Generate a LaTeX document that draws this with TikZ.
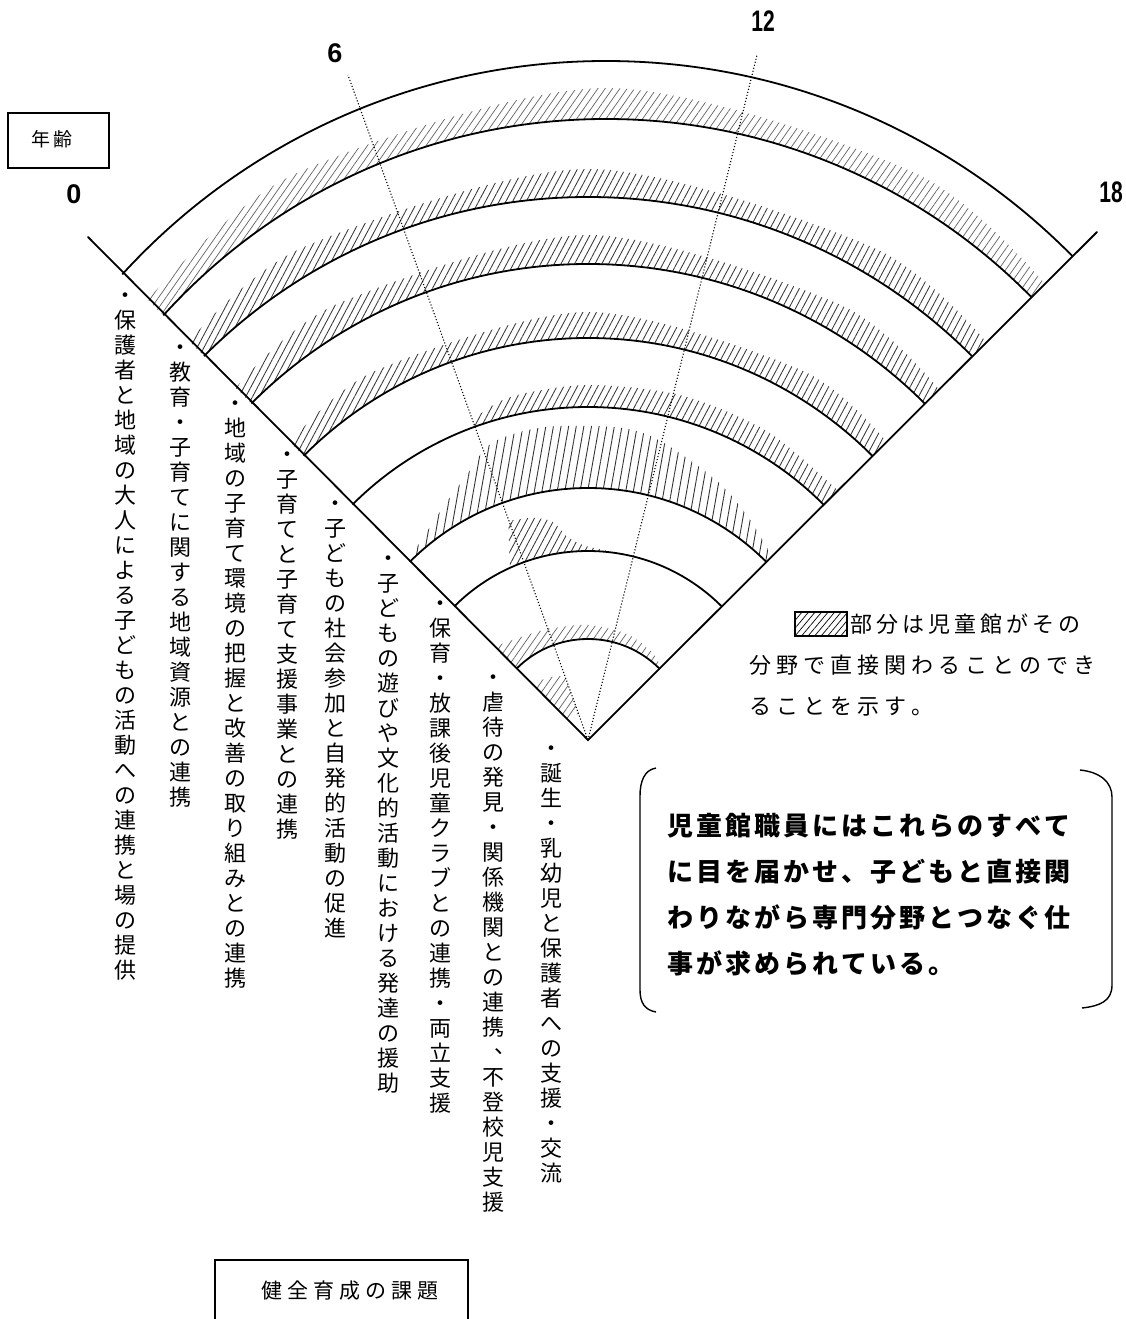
\documentclass[tikz,border=0pt]{standalone}
\usepackage{fontspec}
\setmainfont{Noto Sans CJK JP}
\newfontfamily\digitfont{Liberation Sans}
\usetikzlibrary{patterns.meta}
\newlength\mypitch
\def\myhrowi#1{\ifx\relax#1\else\hbox to\mypitch{\hss\vrule width0pt height0.88em depth0.12em\relax#1\hss}\expandafter\myhrowi\fi}
\newcommand\hrow[2]{\hbox{\mypitch=#1\relax\myhrowi#2\relax}}
\def\myvcoli#1{\ifx\relax#1\else\hbox to 25pt{\hss\vrule width0pt height0.88em depth0.12em\relax#1\hss}\expandafter\myvcoli\fi}
\newcommand\vcol[1]{\vbox{\baselineskip=25pt\lineskiplimit=-\maxdimen\myvcoli#1\relax}}
\newcommand\vcm{\hbox to 1em{\hskip0.55em\raise0.3em\rlap{、}\hss}}
\begin{document}
\begin{tikzpicture}[x=1pt,y=-1pt,
  edge/.style={line width=1.8pt,line cap=round},
  ring/.style={line width=1.8pt},
  ageline/.style={line width=1.1pt,dash pattern=on 1.1pt off 2pt},
  hatchA/.style={pattern={Lines[angle=62,distance=6pt,line width=0.85pt]},pattern color=black!78},
  hatchV/.style={pattern={Lines[angle=80,distance=7.5pt,line width=0.9pt]},pattern color=black!80},
  hatchL/.style={pattern={Lines[angle=55,distance=6pt,line width=0.7pt]},pattern color=black!62},
  agelbl/.style={font=\digitfont\bfseries\fontsize{27}{27}\selectfont,inner sep=0},
  col/.style={font=\fontsize{22}{25}\selectfont,inner sep=0,anchor=north},
  note/.style={font=\fontsize{22}{25}\selectfont,inner sep=0,anchor=west},
  boldtxt/.style={font=\fontsize{26}{29}\selectfont\bfseries,inner sep=0,anchor=west},
  boxline/.style={line width=1.3pt}]
\fill[white] (0,0) rectangle (1126,1319);
\useasboundingbox (0,0) rectangle (1126,1319);
\coordinate (A) at (588,740);
\coordinate (L) at (88,237);
\coordinate (R) at (1097,232);
\coordinate (C) at (606,716);
\coordinate (T6) at (348,75);
\coordinate (T12) at (757,55);

\begin{scope}
\clip (A) -- ++(-800,-800) -- ++(1600,0) -- cycle;
% hatched bands
\path[hatchL, shift={(A)}] (225:30) -- (225:78) -- plot[smooth] coordinates {(232:76) (242:72) (250.2:68)} -- (250.2:28) -- cycle;
\path[hatchL, shift={(A)}] (225:101) arc[start angle=225,end angle=315,radius=101] -- plot[smooth] coordinates {(315:104) (305:109) (290:113) (270:115) (250:118) (235:124) (225:132)} -- cycle;
\path[hatchA, shift={(A)}] (245.6:189) arc[start angle=245.6,end angle=276,radius=189] -- plot[smooth] coordinates {(276:190) (272:192) (268.5:195) (264:205) (260.8:221) (256:229) (250:233)} -- cycle;
\path[hatchV, shift={(A)}] (225:252) arc[start angle=225,end angle=315,radius=252] -- plot[smooth] coordinates {(315:258) (313:263) (305:276) (296:290) (284:307) (276:314) (262:316) (252:312) (245:290) (238:274) (225:254)} -- cycle;
\path[hatchA, shift={(A)}] (249:333) arc[start angle=249,end angle=315,radius=333] -- plot[smooth] coordinates {(315:353) (300:357) (285:357) (270:355) (258:352) (252:344) (249:334)} -- cycle;
\path[hatchA, shift={(A)}] (225:402) arc[start angle=225,end angle=315,radius=402] -- plot[smooth] coordinates {(315:422) (300:427) (270:428) (240:426) (225:421)} -- cycle;
\path[hatchA, shift={(A)}] (225:476) arc[start angle=225,end angle=315,radius=476] -- plot[smooth] coordinates {(315:496) (300:503) (270:505) (240:503) (225:498)} -- cycle;
\path[hatchA, shift={(A)}] (225:543) arc[start angle=225,end angle=315,radius=543] -- plot[smooth] coordinates {(315:563) (300:569) (270:571) (240:569) (225:564)} -- cycle;
\path[hatchL, shift={(C)}] (222:597) arc[start angle=222,end angle=318,radius=597] -- plot[smooth] coordinates {(318:615) (300:625) (270:628) (240:625) (222:619)} -- cycle;
% rings
\foreach \r in {101,189,252,333,402,476,543} \draw[ring] (A) circle[radius=\r];
\draw[ring] (C) circle[radius=597];
\draw[ring] (C) circle[radius=655];
\end{scope}

% age lines and edges
\draw[ageline] (A) -- (T6);
\draw[ageline] (A) -- (T12);
\draw[edge] (L) -- (A) -- (R);

\node[agelbl] (n0) at (74,194) {0};
\node[agelbl] (n6) at (335,53) {6};
\node[agelbl] (n12) at (763,21) {\scalebox{0.78}[1.1]{12}};
\node[agelbl] (n18) at (1111,192) {\scalebox{0.78}[1.1]{18}};

% age box
\draw[boxline] (8,113) rectangle (109,168);
\node[font=\fontsize{19}{22}\selectfont,inner sep=0] (age) at (52,139) {\hrow{23pt}{年齢}};

% columns
\node[col] (c1) at (125,284) {\vcol{・保護者と地域の大人による子どもの活動への連携と場の提供}};
\node[col] (c2) at (180,336) {\vcol{・教育・子育てに関する地域資源との連携}};
\node[col] (c3) at (235,392) {\vcol{・地域の子育て環境の把握と改善の取り組みとの連携}};
\node[col] (c4) at (287,443) {\vcol{・子育てと子育て支援事業との連携}};
\node[col] (c5) at (335,492) {\vcol{・子どもの社会参加と自発的活動の促進}};
\node[col] (c6) at (388,547) {\vcol{・子どもの遊びや文化的活動における発達の援助}};
\node[col] (c7) at (440,592) {\vcol{・保育・放課後児童クラブとの連携・両立支援}};
\node[col] (c8) at (493,666) {\vcol{・虐待の発見・関係機関との連携{\vcm}不登校児支援}};
\node[col] (c9) at (551,737) {\vcol{・誕生・乳幼児と保護者への支援・交流}};

% legend
\draw[line width=1.2pt, pattern={Lines[angle=50,distance=5pt,line width=0.7pt]}] (795,612) rectangle (847,636);
\node[note] (lg1) at (848,624) {\hrow{26pt}{部分は児童館がその}};
\node[note] (lg2) at (747,665) {\hrow{27pt}{分野で直接関わることのでき}};
\node[note] (lg3) at (747,706) {\hrow{27pt}{ることを示す。}};

% bracket note
\draw[line width=1.4pt] (656,768) .. controls (644,770) and (640,782) .. (640,796) -- (640,990) .. controls (640,1003) and (645,1010) .. (656,1012);
\draw[line width=1.4pt] (1080,770) .. controls (1100,772) and (1112,782) .. (1112,797) -- (1112,985) .. controls (1112,1001) and (1100,1006) .. (1082,1008);
\node[boldtxt] (b1) at (666,826) {\hrow{29pt}{児童館職員にはこれらのすべて}};
\node[boldtxt] (b2) at (666,872) {\hrow{29pt}{に目を届かせ、子どもと直接関}};
\node[boldtxt] (b3) at (666,918) {\hrow{29pt}{わりながら専門分野とつなぐ仕}};
\node[boldtxt] (b4) at (666,964) {\hrow{29pt}{事が求められている。}};

% bottom box
\draw[boxline] (215,1330) -- (215,1260) -- (468,1260) -- (468,1330);
\node[font=\fontsize{21}{24}\selectfont,inner sep=0] (title) at (350,1291) {\hrow{26pt}{健全育成の課題}};
\end{tikzpicture}
\end{document}
